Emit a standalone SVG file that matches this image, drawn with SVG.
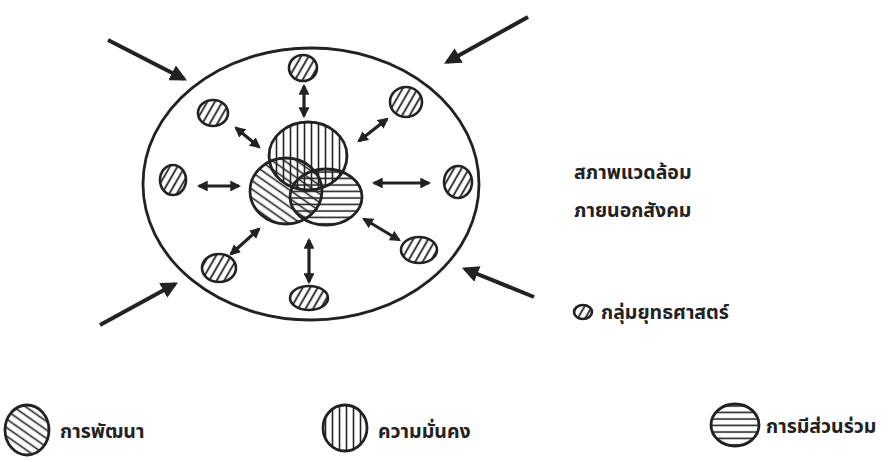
<svg xmlns="http://www.w3.org/2000/svg" width="893" height="462" viewBox="0 0 893 462">
<style>
.ol{fill:none;stroke:#222;stroke-width:2.8}
.sg{stroke:#222;stroke-width:2.6;fill:url(#hs)}
.da{stroke:#222;stroke-width:3.2;fill:none;marker-start:url(#ah);marker-end:url(#ah)}
.ex{stroke:#222;stroke-width:4;fill:none;marker-end:url(#bh)}
.t{font-family:"Noto Sans Thai","Noto Sans","DejaVu Sans",sans-serif;font-size:19.5px;font-weight:bold;fill:#222}
</style>
<defs>
<pattern id="hs" patternUnits="userSpaceOnUse" width="6.5" height="6.5" patternTransform="rotate(30)"><line x1="3" y1="0" x2="3" y2="6.5" stroke="#222" stroke-width="1.8"/></pattern>
<pattern id="hd" patternUnits="userSpaceOnUse" width="7" height="7" patternTransform="rotate(35)"><line x1="0" y1="3.5" x2="7" y2="3.5" stroke="#222" stroke-width="1.6"/></pattern>
<pattern id="hv" patternUnits="userSpaceOnUse" width="7" height="7"><line x1="3.5" y1="0" x2="3.5" y2="7" stroke="#222" stroke-width="1.6"/></pattern>
<pattern id="hh" patternUnits="userSpaceOnUse" width="7" height="6.5"><line x1="0" y1="3" x2="7" y2="3" stroke="#222" stroke-width="1.6"/></pattern>
<marker id="ah" viewBox="0 0 10 10" refX="8" refY="5" markerWidth="3.4" markerHeight="3.4" orient="auto-start-reverse"><path d="M0,0 L10,5 L0,10 Z" fill="#222"/></marker>
<marker id="bh" viewBox="0 0 10 10" refX="8" refY="5" markerWidth="4.2" markerHeight="4.2" orient="auto"><path d="M0,0 L10,5 L0,10 Z" fill="#222"/></marker>
</defs>
<rect width="893" height="462" fill="#fff"/>
<g id="environment"><ellipse class="ol" cx="311" cy="184" rx="168" ry="136"/></g>
<g id="core">
<ellipse cx="308" cy="156" rx="39" ry="34" fill="url(#hv)"/>
<ellipse cx="286" cy="191" rx="36" ry="33" fill="url(#hd)"/>
<ellipse cx="326" cy="197" rx="36" ry="28" fill="url(#hh)"/>
<ellipse class="ol" cx="308" cy="156" rx="39" ry="34"/>
<ellipse class="ol" cx="286" cy="191" rx="36" ry="33"/>
<ellipse class="ol" cx="326" cy="197" rx="36" ry="28"/>
</g>
<g id="sg-top"><ellipse class="sg" cx="303" cy="68" rx="14" ry="13"/></g>
<g id="sg-topleft"><ellipse class="sg" cx="213" cy="113" rx="15" ry="13"/></g>
<g id="sg-topright"><ellipse class="sg" cx="406" cy="102" rx="16" ry="15"/></g>
<g id="sg-left"><ellipse class="sg" cx="173" cy="180" rx="13" ry="15"/></g>
<g id="sg-right"><ellipse class="sg" cx="458" cy="182" rx="14" ry="16"/></g>
<g id="sg-bottomleft"><ellipse class="sg" cx="219" cy="268" rx="17" ry="14"/></g>
<g id="sg-bottomright"><ellipse class="sg" cx="419" cy="250" rx="18" ry="13"/></g>
<g id="sg-bottom"><ellipse class="sg" cx="309" cy="298" rx="19" ry="12"/></g>
<g id="connectors">
<line class="da" x1="304" y1="86" x2="304" y2="116"/>
<line class="da" x1="236" y1="128" x2="259" y2="147"/>
<line class="da" x1="359" y1="141" x2="387" y2="119"/>
<line class="da" x1="199" y1="186" x2="239" y2="186"/>
<line class="da" x1="374" y1="183" x2="429" y2="183"/>
<line class="da" x1="231" y1="254" x2="259" y2="229"/>
<line class="da" x1="364" y1="219" x2="399" y2="240"/>
<line class="da" x1="309" y1="240" x2="309" y2="282"/>
<line class="ex" x1="108" y1="40" x2="184" y2="79"/>
<line class="ex" x1="528" y1="17" x2="447" y2="62"/>
<line class="ex" x1="100" y1="325" x2="175" y2="284"/>
<line class="ex" x1="534" y1="297" x2="465" y2="269"/>
</g>
<g id="env-label">
<text class="t" x="574" y="179">สภาพแวดล้อม</text>
<text class="t" x="574" y="217">ภายนอกสังคม</text>
</g>
<g id="legend-strategy">
<ellipse class="sg" cx="583" cy="312" rx="9" ry="7" stroke-width="2.2"/>
<text class="t" x="601" y="319">กลุ่มยุทธศาสตร์</text>
</g>
<g id="legend-development">
<ellipse cx="27" cy="430" rx="22" ry="25" fill="url(#hd)" stroke="#222" stroke-width="2.8"/>
<text class="t" x="60" y="438">การพัฒนา</text>
</g>
<g id="legend-security">
<ellipse cx="345" cy="428" rx="22" ry="23" fill="url(#hv)" stroke="#222" stroke-width="2.8"/>
<text class="t" x="378" y="438">ความมั่นคง</text>
</g>
<g id="legend-participation">
<ellipse cx="735" cy="425" rx="24" ry="21" fill="url(#hh)" stroke="#222" stroke-width="2.8"/>
<text class="t" x="766" y="433">การมีส่วนร่วม</text>
</g>
</svg>
